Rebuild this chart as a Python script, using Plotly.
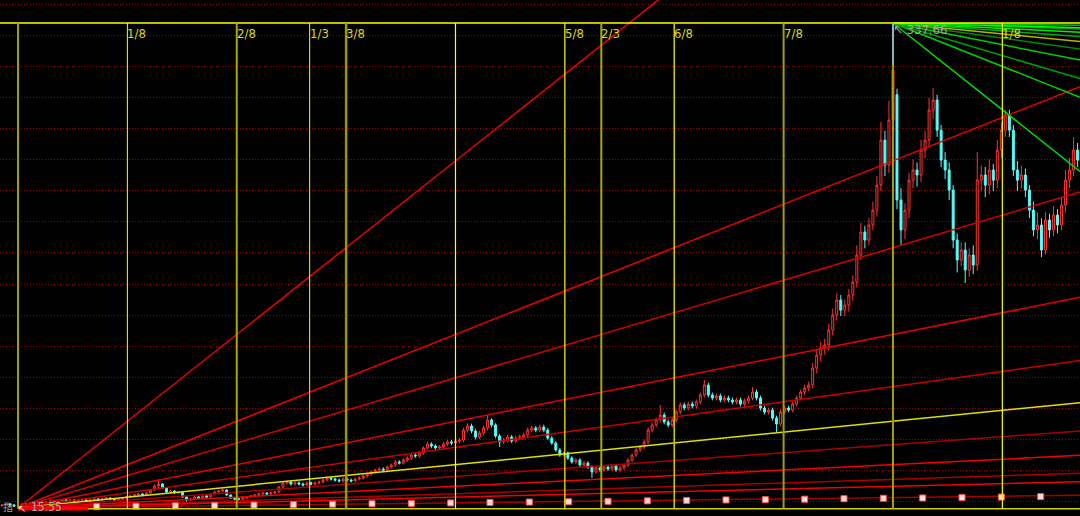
import plotly.graph_objects as go

# ---------------- data ----------------
opens = [17.0, 17.5, 18.2, 17.5, 16.9, 16.9, 18.2, 18.2, 18.9, 18.9,
         19.5, 18.9, 19.5, 20.2, 19.5, 20.2, 20.9, 20.2, 20.9, 20.2,
         20.9, 20.9, 20.2, 20.9, 21.5, 20.9, 21.5, 22.2, 21.5, 20.9,
         21.5, 22.2, 22.9, 23.5, 24.2, 24.9, 24.2, 25.5, 27.5, 30.2,
         31.5, 28.8, 26.2, 26.8, 25.5, 26.2, 22.9, 20.9, 21.5, 22.9,
         22.2, 23.5, 22.9, 24.9, 26.2, 26.8, 27.5, 24.2, 22.2, 21.5,
         21.5, 22.2, 22.9, 23.5, 24.2, 24.9, 25.5, 24.9, 25.5, 26.2,
         29.5, 32.2, 32.8, 31.5, 32.2, 31.5, 30.8, 32.2, 31.5, 32.2,
         32.8, 34.1, 35.5, 34.8, 34.1, 33.5, 34.8, 34.1, 33.5, 34.8,
         35.5, 36.8, 38.1, 39.5, 40.8, 41.4, 40.8, 42.8, 44.1, 46.1,
         45.4, 47.4, 48.7, 50.7, 50.1, 52.1, 55.4, 58.0, 56.7, 55.4,
         56.1, 58.0, 59.4, 58.7, 60.0, 60.7, 67.3, 70.0, 66.7, 62.7,
         65.4, 68.7, 74.0, 70.7, 63.4, 59.4, 60.7, 62.7, 60.0, 62.0,
         62.7, 64.0, 67.3, 68.7, 67.3, 69.3, 67.3, 62.0, 58.7, 54.1,
         50.7, 52.1, 48.7, 46.1, 47.4, 44.1, 45.4, 42.8, 39.5, 42.1,
         40.8, 42.8, 41.4, 43.4, 40.8, 42.1, 44.1, 47.4, 50.7, 54.1,
         56.1, 59.4, 67.3, 70.7, 74.0, 77.3, 72.7, 70.7, 74.0, 79.3,
         84.0, 82.0, 84.6, 83.3, 86.0, 90.6, 97.2, 90.6, 88.6, 89.9,
         87.3, 88.6, 87.3, 86.0, 87.3, 84.6, 86.6, 88.6, 92.6, 88.6,
         81.9, 79.3, 80.6, 75.3, 71.3, 79.3, 81.9, 80.6, 84.6, 88.6,
         92.6, 95.2, 97.2, 108.5, 117.1, 121.8, 123.8, 133.7, 143.7, 153.7,
         147.0, 150.3, 157.0, 165.6, 183.6, 198.8, 193.5, 203.5, 213.4, 230.0,
         259.9, 243.3, 273.2, 290.0, 220.1, 200.2, 213.4, 233.3, 240.0, 236.7,
         253.3, 259.9, 279.8, 286.5, 266.5, 246.6, 240.0, 226.7, 193.5, 180.2,
         186.9, 173.6, 183.6, 176.9, 233.3, 236.7, 230.0, 240.0, 233.3, 253.3,
         266.5, 276.5, 266.5, 240.0, 233.3, 236.7, 226.7, 213.4, 200.2, 203.5,
         186.9, 206.8, 200.2, 210.1, 203.5, 216.7, 233.3, 240.0, 253.3]
closes = [17.5, 18.2, 17.5, 16.9, 16.9, 18.2, 18.2, 18.9, 18.9, 19.5,
          18.9, 19.5, 20.2, 19.5, 20.2, 20.9, 20.2, 20.9, 20.2, 20.9,
          20.9, 20.2, 20.9, 21.5, 20.9, 21.5, 22.2, 21.5, 20.9, 21.5,
          22.2, 22.9, 23.5, 24.2, 24.9, 24.2, 25.5, 27.5, 30.2, 31.5,
          28.8, 26.2, 26.8, 25.5, 26.2, 22.9, 20.9, 21.5, 22.9, 22.2,
          23.5, 22.9, 24.9, 26.2, 26.8, 27.5, 24.2, 22.2, 21.5, 21.5,
          22.2, 22.9, 23.5, 24.2, 24.9, 25.5, 24.9, 25.5, 26.2, 29.5,
          32.2, 32.8, 31.5, 32.2, 31.5, 30.8, 32.2, 31.5, 32.2, 32.8,
          34.1, 35.5, 34.8, 34.1, 33.5, 34.8, 34.1, 33.5, 34.8, 35.5,
          36.8, 38.1, 39.5, 40.8, 41.4, 40.8, 42.8, 44.1, 46.1, 45.4,
          47.4, 48.7, 50.7, 50.1, 52.1, 55.4, 58.0, 56.7, 55.4, 56.1,
          58.0, 59.4, 58.7, 60.0, 60.7, 67.3, 70.0, 66.7, 62.7, 65.4,
          68.7, 74.0, 70.7, 63.4, 59.4, 60.7, 62.7, 60.0, 62.0, 62.7,
          64.0, 67.3, 68.7, 67.3, 69.3, 67.3, 62.0, 58.7, 54.1, 50.7,
          52.1, 48.7, 46.1, 47.4, 44.1, 45.4, 42.8, 39.5, 42.1, 40.8,
          42.8, 41.4, 43.4, 40.8, 42.1, 44.1, 47.4, 50.7, 54.1, 56.1,
          59.4, 67.3, 70.7, 74.0, 77.3, 72.7, 70.7, 74.0, 79.3, 84.0,
          82.0, 84.6, 83.3, 86.0, 90.6, 97.2, 90.6, 88.6, 89.9, 87.3,
          88.6, 87.3, 86.0, 87.3, 84.6, 86.6, 88.6, 92.6, 88.6, 81.9,
          79.3, 80.6, 75.3, 71.3, 79.3, 81.9, 80.6, 84.6, 88.6, 92.6,
          95.2, 97.2, 108.5, 117.1, 121.8, 123.8, 133.7, 143.7, 153.7, 147.0,
          150.3, 157.0, 165.6, 183.6, 198.8, 193.5, 203.5, 213.4, 230.0, 259.9,
          243.3, 273.2, 306.4, 220.1, 200.2, 213.4, 233.3, 240.0, 236.7, 253.3,
          259.9, 279.8, 286.5, 266.5, 246.6, 240.0, 226.7, 193.5, 180.2, 186.9,
          173.6, 183.6, 176.9, 233.3, 236.7, 230.0, 240.0, 233.3, 253.3, 266.5,
          276.5, 266.5, 240.0, 233.3, 236.7, 226.7, 213.4, 200.2, 203.5, 186.9,
          206.8, 200.2, 210.1, 203.5, 216.7, 233.3, 240.0, 253.3, 246.6]
highs = [18.1, 18.8, 18.8, 18.1, 17.5, 18.8, 18.8, 19.5, 19.5, 20.1,
         20.1, 20.1, 20.8, 20.8, 20.8, 21.5, 21.5, 21.5, 21.5, 21.5,
         21.6, 21.6, 21.5, 22.1, 22.1, 22.1, 22.8, 22.8, 22.1, 22.1,
         22.8, 23.5, 24.1, 24.8, 25.5, 25.5, 26.1, 28.1, 31.2, 34.8,
         32.1, 29.4, 27.4, 27.4, 26.8, 26.8, 23.5, 22.1, 23.5, 23.5,
         24.1, 24.1, 25.5, 26.8, 27.4, 28.6, 28.1, 24.8, 22.8, 22.1,
         22.8, 23.5, 24.1, 24.8, 25.5, 26.1, 26.1, 26.1, 26.8, 30.1,
         33.2, 33.8, 33.8, 33.2, 33.2, 32.5, 33.2, 33.2, 33.2, 33.8,
         35.1, 36.5, 36.5, 35.8, 35.1, 35.8, 35.8, 35.1, 35.8, 36.5,
         37.8, 39.1, 40.5, 41.8, 42.6, 42.6, 43.8, 45.1, 47.3, 47.3,
         48.6, 49.9, 51.9, 51.9, 53.3, 56.6, 59.5, 59.2, 57.9, 57.3,
         59.4, 60.8, 60.8, 61.4, 62.1, 68.9, 71.8, 71.6, 67.9, 66.9,
         70.3, 77.3, 75.2, 71.9, 64.6, 62.0, 64.3, 64.0, 63.6, 64.3,
         65.6, 68.9, 70.3, 70.0, 70.9, 70.9, 68.6, 63.2, 59.9, 55.3,
         53.3, 53.1, 49.9, 48.6, 48.6, 46.6, 46.6, 44.0, 43.3, 43.3,
         44.0, 44.0, 44.6, 44.6, 43.3, 45.3, 48.6, 51.9, 55.3, 57.3,
         61.0, 68.9, 72.3, 75.6, 84.0, 79.0, 74.3, 75.6, 80.9, 85.6,
         85.6, 86.2, 86.2, 87.6, 92.2, 100.5, 98.8, 92.2, 91.5, 91.5,
         90.2, 90.2, 88.9, 88.9, 88.9, 88.2, 90.2, 95.9, 94.2, 90.2,
         83.5, 82.2, 82.2, 76.9, 80.9, 83.5, 83.5, 86.2, 90.2, 94.2,
         97.5, 99.5, 112.0, 121.0, 126.0, 128.0, 138.0, 148.0, 158.0, 157.0,
         154.0, 161.0, 170.0, 190.0, 205.0, 203.0, 208.0, 219.0, 236.0, 272.0,
         266.0, 286.0, 337.66, 294.0, 228.0, 218.0, 238.0, 247.0, 245.0, 260.0,
         266.0, 288.0, 294.4, 290.0, 270.0, 252.0, 245.0, 230.0, 198.0, 192.0,
         192.0, 188.0, 190.0, 252.0, 243.0, 242.0, 247.0, 244.0, 260.0, 272.0,
         279.8, 280.0, 270.0, 246.0, 243.0, 241.0, 230.0, 219.0, 212.0, 208.0,
         212.0, 211.0, 216.0, 214.0, 222.0, 240.0, 248.0, 262.0, 258.0]
lows = [16.4, 16.9, 16.9, 16.3, 15.55, 16.3, 17.6, 17.6, 18.3, 18.3,
        18.3, 18.3, 18.9, 18.9, 18.9, 19.6, 19.6, 19.6, 19.6, 19.6,
        20.3, 19.6, 19.6, 20.3, 20.3, 20.3, 20.9, 20.9, 20.3, 20.3,
        20.9, 21.6, 22.3, 22.9, 23.6, 23.6, 23.6, 24.9, 26.9, 28.9,
        28.2, 25.6, 25.6, 24.9, 24.9, 22.3, 19.6, 20.3, 20.9, 21.6,
        21.6, 22.3, 22.3, 24.3, 25.6, 26.2, 23.6, 21.6, 20.9, 20.9,
        20.9, 21.6, 22.3, 22.9, 23.6, 24.3, 24.3, 24.3, 24.9, 25.6,
        28.9, 31.2, 30.5, 30.5, 30.5, 29.8, 29.8, 30.5, 30.5, 31.2,
        31.8, 33.1, 33.8, 33.1, 32.5, 32.5, 33.1, 32.5, 32.5, 33.8,
        34.5, 35.8, 37.1, 38.5, 39.8, 39.8, 39.8, 41.8, 43.1, 44.4,
        44.4, 46.2, 47.5, 48.9, 48.9, 50.9, 54.2, 55.2, 54.2, 54.2,
        54.9, 56.8, 57.3, 57.3, 58.6, 59.3, 65.7, 65.1, 61.1, 61.3,
        63.8, 67.1, 69.1, 61.9, 56.1, 58.1, 59.1, 58.6, 58.6, 60.6,
        61.1, 62.4, 65.9, 65.9, 65.9, 65.9, 60.8, 57.5, 52.9, 49.5,
        49.5, 47.5, 44.9, 44.9, 42.9, 42.9, 41.6, 35.5, 38.3, 39.6,
        39.6, 40.2, 40.2, 39.6, 39.6, 40.9, 42.9, 46.2, 49.5, 52.9,
        54.5, 57.8, 65.7, 69.1, 72.4, 71.1, 69.1, 69.1, 72.4, 77.7,
        80.4, 80.4, 81.7, 81.7, 84.4, 89.0, 89.0, 87.0, 87.0, 85.7,
        85.7, 85.7, 84.4, 84.4, 83.0, 83.0, 85.0, 87.0, 87.0, 80.3,
        77.7, 77.7, 73.7, 66.0, 69.7, 77.7, 79.0, 79.0, 83.0, 87.0,
        90.5, 93.0, 95.0, 105.0, 113.0, 117.5, 120.0, 130.0, 140.0, 143.0,
        143.0, 146.0, 153.0, 162.0, 180.0, 188.0, 190.0, 200.0, 209.0, 226.0,
        236.0, 238.0, 252.0, 214.0, 190.0, 194.0, 208.0, 228.0, 229.0, 232.0,
        248.0, 255.0, 274.0, 262.0, 242.0, 234.0, 220.0, 188.0, 172.0, 176.0,
        165.0, 169.0, 171.0, 173.0, 226.0, 222.0, 224.0, 226.0, 228.0, 248.0,
        262.0, 262.0, 236.0, 226.0, 228.0, 222.0, 208.0, 196.0, 194.0, 182.2,
        184.0, 195.0, 196.0, 198.0, 200.0, 212.0, 228.0, 236.0, 242.0]
bars = list(range(len(closes)))

low_bar, low_price = 4, 15.55
high_bar, high_price = 222, 337.66
cycle_bars = 218
fan_unit = 0.2644          # price per bar of the 1x1 line
fan_ratios = [8, 4, 3, 2, 1.4, 1, 0.73, 0.5, 0.33, 0.25, 0.12]
red_colors = ['#e80000', '#e80000', '#d00000', '#e00000', '#c80000', '#e0e000',
              '#a80000', '#f00000', '#a80000', '#f00000', '#a00000']
green_colors = ['#00e000', '#00d000', '#00a000', '#00d000', '#008800', '#b4b400',
                '#00b000', '#00f000', '#00a000', '#00ff00', '#00c000']

time_fracs = [0, 1/8, 2/8, 1/3, 3/8, 4/8, 5/8, 2/3, 6/8, 7/8, 1, 9/8]
time_labels = ["", "1/8", "2/8", "1/3", "3/8", "", "5/8", "2/3", "6/8", "7/8", "", "1/8"]
vline_colors = ['#a0a000', '#ffff00', '#a8a800', '#ffff00', '#9a9a00', '#ffff00',
                '#ffff00', '#a8a800', '#d0d000', '#a0a000', '#a0a000', '#ffff00']
vline_widths = [2, 1, 2, 1, 2.5, 1.2, 1.2, 2, 1.5, 2, 2, 1.2]

square_bars = [23.6, 33.4, 43.2, 53.0, 62.8, 72.6, 82.4, 92.2, 102.0, 111.8, 121.6,
               131.4, 141.2, 151.0, 160.8, 170.6, 180.4, 190.2, 200.0, 209.8, 219.6,
               229.4, 239.2, 249.0, 258.8]
square_prices = [16.4, 16.7, 17.0, 17.2, 17.5, 17.8, 18.1, 18.4, 18.6, 18.9, 19.2,
                 19.5, 19.7, 20.0, 20.3, 20.6, 20.9, 21.1, 21.4, 21.7, 22.0, 22.2,
                 22.5, 22.8, 23.1]

grid_start, grid_step = 19.73, 20.655
x_range = [-0.485, 268.6]
y_range = [10.24, 352.93]

NARROW = 'Liberation Sans Narrow, DejaVu Sans Condensed, Arial'

# ---------------- figure ----------------
fig = go.Figure()

fig.add_trace(go.Candlestick(
    x=bars, open=opens, high=highs, low=lows, close=closes,
    increasing=dict(line=dict(color='#ff3232', width=1), fillcolor='#000000'),
    decreasing=dict(line=dict(color='#54fcfc', width=1), fillcolor='#54fcfc'),
    whiskerwidth=0, hoverinfo='skip'))

x_end = x_range[1]
for r, col in zip(fan_ratios, red_colors):
    fig.add_trace(go.Scatter(
        x=[low_bar, x_end],
        y=[low_price, low_price + r * fan_unit * (x_end - low_bar)],
        mode='lines', line=dict(color=col, width=1.5), hoverinfo='skip'))
for r, col in zip(fan_ratios, green_colors):
    fig.add_trace(go.Scatter(
        x=[high_bar, x_end],
        y=[high_price, high_price - r * fan_unit * (x_end - high_bar)],
        mode='lines', line=dict(color=col, width=1.5), hoverinfo='skip'))

fig.add_trace(go.Scatter(
    x=square_bars, y=square_prices, mode='markers',
    marker=dict(symbol='square', size=6, color='#ffdede',
                line=dict(color='#ff5050', width=1)),
    hoverinfo='skip'))

shapes = []
shapes.append(dict(type='line', xref='paper', x0=0, x1=1, yref='y',
                   y0=high_price, y1=high_price, line=dict(color='#ffff00', width=1.5)))
shapes.append(dict(type='line', xref='x', x0=low_bar, x1=x_end, yref='y',
                   y0=low_price - 0.5, y1=low_price - 0.5, line=dict(color='#d0d000', width=1.5)))
shapes.append(dict(type='line', xref='x', x0=low_bar, x1=21.5, yref='y',
                   y0=low_price - 0.3, y1=low_price - 0.3, line=dict(color='#ff0000', width=4)))
for f, col, w in zip(time_fracs, vline_colors, vline_widths):
    xv = low_bar + f * cycle_bars
    shapes.append(dict(type='line', xref='x', x0=xv, x1=xv, yref='y',
                       y0=low_price - 0.5, y1=high_price, line=dict(color=col, width=w)))
shapes.append(dict(type='line', xref='x', x0=high_bar, x1=high_bar, yref='y',
                   y0=310, y1=high_price, line=dict(color='#8fb4c4', width=2)))

annotations = []
for f, lab in zip(time_fracs, time_labels):
    if lab:
        annotations.append(dict(x=low_bar + f * cycle_bars, y=331.0, xref='x', yref='y',
                                text=lab, showarrow=False, xanchor='left', yanchor='middle',
                                xshift=-2, font=dict(family=NARROW, size=13, color='#d8d820')))
annotations.append(dict(x=high_bar, y=333.6, xref='x', yref='y', text='↖ 337.66',
                        showarrow=False, xanchor='left', yanchor='middle', xshift=-2,
                        font=dict(family=NARROW, size=13, color='#a8a8a8')))
annotations.append(dict(x=low_bar, y=0, xref='x', yref='paper', text='↖',
                        showarrow=False, xanchor='left', yanchor='bottom', xshift=-2,
                        font=dict(family='DejaVu Sans', size=10, color='#ffffff')))
annotations.append(dict(x=low_bar, y=0, xref='x', yref='paper', text='15.55',
                        showarrow=False, xanchor='left', yanchor='bottom', xshift=11,
                        font=dict(family=NARROW, size=12, color='#a8a8a8')))
annotations.append(dict(x=0, y=0, xref='paper', yref='paper', text='指',
                        showarrow=False, xanchor='left', yanchor='bottom', xshift=1,
                        font=dict(family='Noto Sans CJK SC', size=10, color='#a0a0a0')))

fig.update_layout(
    width=1080, height=516,
    margin=dict(l=0, r=0, t=0, b=0),
    paper_bgcolor='#000000', plot_bgcolor='#000000',
    showlegend=False,
    shapes=shapes, annotations=annotations,
    xaxis=dict(range=x_range, showgrid=False, zeroline=False, showticklabels=False,
               ticks='', rangeslider=dict(visible=False), fixedrange=True),
    yaxis=dict(range=y_range, showgrid=True, gridcolor='#a00000', griddash='1px,2px',
               gridwidth=1, tick0=grid_start, dtick=grid_step, zeroline=False,
               showticklabels=False, ticks='', fixedrange=True),
)

fig.write_html("out.html", config={'displayModeBar': False},
               post_script="document.body.style.margin='0';document.body.style.overflow='hidden';")
